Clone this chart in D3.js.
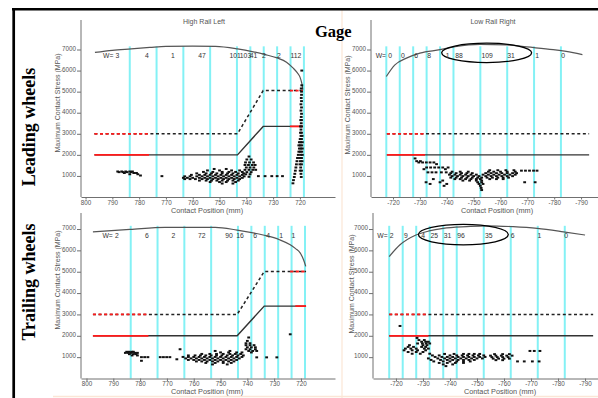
<!DOCTYPE html>
<html>
<head>
<meta charset="utf-8">
<script src="https://cdn.jsdelivr.net/npm/d3@7"></script>
<style>
    body { margin: 0; background: #fff; }
    svg { display: block; font-family: Arial, 'Liberation Sans', sans-serif; }
</style>
</head>
<body>
<div id="chart"></div>
<script>
//Colores fijos
const COLOR_BIN = '#84f1f5';
const COLOR_RED = '#ff1a1a';
const COLOR_LINE = '#333';
const COLOR_CURVE = '#555';
const COLOR_AXIS = '#707070';
const COLOR_TEXT = '#555';

//Ejes
const TICKS_Y = [1000, 2000, 3000, 4000, 5000, 6000, 7000];
const TICKS_X_LEFT = [800, 790, 780, 770, 760, 750, 740, 730, 720];
const TICKS_X_RIGHT = [-720, -730, -740, -750, -760, -770, -780, -790];

//Límites de las bandas (mm)
const binsLeft = [783.5, 773.5, 763.5, 753.5, 743.5, 738.5, 733.5, 728.5, 723.5, 718.5];
const binsRight = [-717.5, -722.5, -727.5, -732.5, -737.5, -742.5, -752.5, -762.5, -772.5, -782.5];

//Número de ruedas por banda y su posición (mm)
const countsTL = ['3', '4', '1', '47', '101', '103', '41', '2', '2', '112'];
const countPosTL = [788.1, 777.1, 767.4, 756.5, 744.2, 740.3, 737.3, 733.4, 727.8, 721.5];
const countsTR = ['0', '0', '6', '8', '1', '88', '109', '31', '1', '0'];
const countPosTR = [-718.9, -723.7, -728.6, -733.4, -740.3, -744.6, -755, -763.9, -773.6, -783.3];
const countsBL = ['2', '6', '2', '72', '90', '16', '6', '4', '1', '1'];
const countPosBL = [788.7, 777.5, 767.6, 757, 746.8, 742.7, 737.1, 732.2, 727.4, 722.8];
const countsBR = ['2', '9', '4', '25', '31', '96', '35', '6', '1', '0'];
const countPosBR = [-718.4, -723.7, -730.1, -734.2, -739.1, -744.1, -754.4, -763.2, -773.1, -783];

//Envolvente superior (mm, MPa)
const curveTL = [[796.5, 6860], [790, 6960], [783, 7030], [776, 7100], [770, 7150], [760, 7160], [751.5, 7150], [743.3, 7030], [737.4, 6890], [733, 6760], [728.5, 6600], [725, 6400], [722.6, 6130], [721, 5900], [720, 5700], [719.3, 5400], [718.9, 5100]];
const curveTR = [[-717.5, 5720], [-720.7, 6270], [-725, 6590], [-730, 6830], [-737.5, 6990], [-743.1, 7130], [-752.4, 7240], [-762.3, 7220], [-769.8, 7120], [-779.6, 6990], [-787, 6850], [-790.5, 6760]];
const curveBL = [[797.6, 6870], [783.8, 6980], [770.7, 7080], [752, 7080], [743.8, 6950], [734.1, 6720], [728, 6500], [724, 6260], [722, 6080], [720.3, 5880], [719, 5550], [718.2, 5250]];
const curveBR = [[-717.5, 5710], [-721.5, 6260], [-727.4, 6720], [-732.3, 6910], [-737.5, 7030], [-746.2, 7110], [-753.6, 7150], [-763.4, 7110], [-772.3, 7030], [-782, 6870], [-790, 6720]];

//Límites (línea continua y discontinua) y tramos rojos [desde, hasta, valor]
const limitTL = [[796.7, 2000], [743.3, 2000], [733.7, 3350], [718.9, 3350]];
const limitDashTL = [[796.7, 3000], [743.3, 3000], [733.7, 5050], [718.9, 5050]];
const redTL = [[796.7, 776.3, 2000], [723.7, 718.9, 3350]];
const redDashTL = [[796.7, 776.3, 3000], [723.7, 718.9, 5050]];

const limitTR = [[-717.7, 2000], [-793, 2000]];
const limitDashTR = [[-717.7, 3000], [-793, 3000]];
const redTR = [[-717.7, -731.9, 2000]];
const redDashTR = [[-717.7, -731.9, 3000]];

const limitBL = [[797.6, 2000], [743.8, 2000], [733.7, 3390], [718.1, 3390]];
const limitDashBL = [[797.6, 3000], [743.8, 3000], [733.7, 5010], [718.1, 5010]];
const redBL = [[797.6, 776.9, 2000], [722.1, 718.1, 3390]];
const redDashBL = [[797.6, 776.9, 3000], [724, 718.1, 5010]];

const limitBR = [[-717.5, 2000], [-793, 2000]];
const limitDashBR = [[-717.5, 3000], [-793, 3000]];
const redBR = [[-717.5, -732, 2000]];
const redDashBR = [[-717.5, -732, 3000]];

//Elipses [mm desde, mm hasta, MPa bajo, MPa alto]
const ellipseTR = [-738.1, -771.6, 6380, 7300];
const ellipseBR = [-728.3, -761.6, 6260, 7220];

//Puntos de contacto por filas [MPa, [mm...]]
const scatterTL = [
    [1210, [788, 786.5, 785, 783.5, 782.5]],
    [1180, [787.5, 786, 784.5, 783]],
    [1140, [785.5, 782, 781]],
    [1080, [783.5, 780.5]],
    [1020, [779.5]],
    [990, [771.5, 735.5, 733, 730.5, 728.5, 726.5]],
    [1330, [752, 747.5]],
    [1260, [754.5, 750, 745.5, 742.5]],
    [1190, [756, 752.5, 749, 746.5, 744, 741.5]],
    [1120, [758.5, 755, 753, 751, 749, 747, 745, 743, 741]],
    [1050, [760.5, 757.5, 755.5, 753.5, 751.5, 749.5, 747.5, 745.5, 743.5, 741.5]],
    [980, [763, 761, 758.5, 756.5, 754.5, 752.5, 750.5, 748.5, 746.5, 744.5, 742.5, 740.8]],
    [910, [763.5, 762, 760, 757.5, 755.5, 753.5, 751.5, 749.5, 747.5, 745.5, 743.5, 741.5]],
    [850, [763, 761, 759, 756.5, 754.5, 752.5, 750.5, 748.5, 746.5, 744.5, 742.5]],
    [780, [757.5, 755, 753, 751, 749, 747, 745, 743]],
    [710, [753.5, 750, 747.5, 744]],
    [640, [749, 745]],
    [1920, [739]],
    [1780, [739.8, 738.2]],
    [1640, [740.3, 738.8, 737.3]],
    [1520, [740.5, 739.2, 737.8, 736.7]],
    [1400, [740, 738.6, 737.2]],
    [1290, [740.5, 739, 737.6, 736.5]],
    [1180, [739.8, 738.2]],
    [1080, [740.2, 738.6]],
    [960, [739]],
    [650, [722.6]], [800, [722.4]], [950, [722.1, 719.5]], [1100, [721.9, 719.6]],
    [1250, [721.7, 719.4, 719.9]], [1400, [721.5, 719.7]], [1550, [721.3, 719.4, 720]],
    [1700, [721.1, 719.8, 719.2]], [1850, [720.9, 719.4, 720.1]], [2000, [720.6, 719.7, 719.1]],
    [2150, [720.4, 719.3, 719.9]], [2300, [719.6, 720.2, 719.1]], [2450, [719.3, 719.9, 720.4]],
    [2600, [719.7, 719.1, 720.2]], [2750, [719.4, 719.9]], [2900, [719.6, 719.2]],
    [3050, [719.4, 719.8]], [3200, [719.6]], [3350, [719.4, 719.8]], [3500, [719.5]],
    [3650, [719.4, 719.7]], [3800, [719.5]], [3950, [719.4]], [4100, [719.6]],
    [4250, [719.4]], [4400, [719.6]], [4550, [719.4]], [4700, [719.5]],
    [4850, [719.4]], [5000, [719.4]], [5150, [719.5]], [5300, [719.3]], [6000, [719.3]]
];

const scatterTR = [
    [1830, [-728.2]],
    [1700, [-728.8, -730.2]],
    [1640, [-729.6, -731, -732.4, -733.8, -735.2]],
    [1560, [-736.2]],
    [1400, [-732.5, -734, -735.5, -737, -738.5, -740.5]],
    [1320, [-731.5, -739.5]],
    [1250, [-767.8, -769.3, -770.8, -772.3, -773.6]],
    [1170, [-733, -734.5, -736, -738, -739.8]],
    [1270, [-756, -759, -762, -765]],
    [1200, [-742, -745, -748, -755.5, -757.5, -760, -762.5, -765.5]],
    [1130, [-741.5, -743.5, -745.5, -747.5, -749.5, -754.5, -756.5, -758.5, -760.5, -762.5, -764.5, -766]],
    [1060, [-741, -743, -745, -747, -749, -751, -753.5, -755.5, -757.5, -759.5, -761.5, -763.5, -765.5]],
    [990, [-742, -744, -746, -748, -750, -752, -754.5, -756.5, -758.5, -760.5, -762.5, -764.5]],
    [920, [-741.5, -743.5, -745.5, -747.5, -749.5, -751.5, -753, -755, -757, -759, -761, -763]],
    [850, [-735, -743, -745, -747, -749, -751, -752.5, -756, -758.5, -761]],
    [780, [-738.5, -746, -748.5, -751, -753]],
    [700, [-732.3, -737.5, -751.5, -753, -769, -772.9]],
    [620, [-733.8, -740, -752, -753.5]],
    [530, [-739, -752.5]],
    [430, [-752.8]],
    [330, [-753]]
];

const scatterBL = [
    [1250, [785, 784, 783, 782.5]],
    [1200, [785.5, 784.5, 783.5, 782, 781]],
    [1140, [784, 782.5, 781.5]],
    [1080, [783, 781]],
    [1000, [779.5, 778.3, 777.1, 772.5, 771.3, 770.1, 768.9]],
    [830, [779.5]],
    [900, [766.3]],
    [1370, [765.1, 740.5, 739, 737]],
    [1290, [752, 746.5, 739.5, 738, 736.5]],
    [1220, [750, 747, 744, 742, 738.5]],
    [1150, [757, 754, 751.5, 749, 746.5, 744.5, 742.5]],
    [1080, [762, 759.5, 757.5, 755.5, 753.5, 751.5, 749.5, 747.5, 745.5, 743.5, 741.5]],
    [1010, [764, 762, 760, 758, 756, 754, 752, 750, 748, 746, 744, 742]],
    [940, [763, 761, 759, 757, 755, 753, 751, 749, 747, 745, 743]],
    [870, [762, 760, 758, 756, 754, 752, 750, 748, 746, 744]],
    [800, [759, 757, 755, 753, 751, 749, 747, 745]],
    [730, [755.5, 752, 749, 746]],
    [660, [753, 747.5]],
    [1920, [739.5]],
    [1760, [740]],
    [1650, [740.5, 739]],
    [1560, [740.5, 739, 737.5]],
    [1460, [740, 738.5, 737]],
    [990, [736.5, 732.8, 729]],
    [2070, [724]]
];

const scatterBR = [
    [2460, [-721.5]],
    [1900, [-727.8]],
    [1800, [-728.5, -730.5]],
    [1720, [-729.5, -731, -732]],
    [1640, [-728, -729.8, -731.2, -732.5]],
    [1560, [-725, -730, -731.5]],
    [1480, [-724.5, -726.5, -729.5, -731]],
    [1400, [-723.5, -725.5, -727.5, -730.5, -732]],
    [1320, [-723, -726, -728, -731]],
    [1290, [-769.6, -771.2, -773.3]],
    [1240, [-724.5, -727.5, -730]],
    [1160, [-726, -729, -732.5]],
    [1150, [-738, -741.5, -745, -747, -749, -751]],
    [1140, [-756.5, -759.5, -762]],
    [1080, [-733.5, -736, -740, -742.5, -744.5, -746.5, -748.5, -750.5, -752.5]],
    [1070, [-755, -757, -759, -761, -763]],
    [1010, [-734.5, -737, -739, -741, -743, -745, -747, -749, -751, -753]],
    [1000, [-755.5, -757.5, -759.5, -761.5]],
    [940, [-732, -735.5, -738, -740, -742, -744, -746, -748, -750, -752]],
    [930, [-756, -758, -760, -762]],
    [870, [-733, -736.5, -739, -741, -743, -745, -747, -749]],
    [860, [-757, -759.5]],
    [800, [-734, -737.5, -740, -742.5, -745, -747.5, -765, -767.5, -770.5, -773]],
    [730, [-736, -739, -742, -745]],
    [660, [-737.5, -741]],
    [580, [-738.5]]
];

//Configuración de paneles
const panels = [
    { bins: binsLeft, counts: countsTL, countPos: countPosTL, curve: curveTL, limit: limitTL, limitDash: limitDashTL, red: redTL, redDash: redDashTL, scatter: scatterTL, ellipse: null,
      xDomain: [801.7, 706.9], xRange: [81, 335], yDomain: [0, 8400], yRange: [197, 20], ticksX: TICKS_X_LEFT,
      title: 'High Rail Left', titlePos: [204, 24], yTitlePos: [60, 103], xTitlePos: [207, 212.5] },
    { bins: binsRight, counts: countsTR, countPos: countPosTR, curve: curveTR, limit: limitTR, limitDash: limitDashTR, red: redTR, redDash: redDashTR, scatter: scatterTR, ellipse: ellipseTR,
      xDomain: [-711.8, -796.3], xRange: [371, 598], yDomain: [0, 8400], yRange: [197, 20], ticksX: TICKS_X_RIGHT,
      title: 'Low Rail Right', titlePos: [493, 24], yTitlePos: [350, 105], xTitlePos: [497, 212.5] },
    { bins: binsLeft, counts: countsBL, countPos: countPosBL, curve: curveBL, limit: limitBL, limitDash: limitDashBL, red: redBL, redDash: redDashBL, scatter: scatterBL, ellipse: null,
      xDomain: [802.05, 707.3], xRange: [81, 335], yDomain: [0, 7750], yRange: [378.5, 213], ticksX: TICKS_X_LEFT,
      title: null, yTitlePos: [60, 280], xTitlePos: [207, 394] },
    { bins: binsRight, counts: countsBR, countPos: countPosBR, curve: curveBR, limit: limitBR, limitDash: limitDashBR, red: redBR, redDash: redDashBR, scatter: scatterBR, ellipse: ellipseBR,
      xDomain: [-711.5, -794.8], xRange: [373, 598], yDomain: [0, 7750], yRange: [378.5, 213], ticksX: TICKS_X_RIGHT,
      title: null, yTitlePos: [354, 284], xTitlePos: [500, 394] }
];

let svg = d3.select('#chart')
    .append('svg')
        .attr('width', 598)
        .attr('height', 398);

//Marco
svg.append('line').attr('x1', 342).attr('x2', 342).attr('y1', 10).attr('y2', 398).attr('stroke', '#fbe6d6').attr('stroke-width', 1.2);
svg.append('line').attr('x1', 53).attr('x2', 598).attr('y1', 396.5).attr('y2', 396.5).attr('stroke', '#fbe6d6').attr('stroke-width', 1.5);
svg.append('line').attr('x1', 12).attr('x2', 598).attr('y1', 9.3).attr('y2', 9.3).attr('stroke', '#000').attr('stroke-width', 2.6);
svg.append('line').attr('x1', 13.7).attr('x2', 13.7).attr('y1', 8).attr('y2', 398).attr('stroke', '#000').attr('stroke-width', 2.7);

function expandRows(rows) {
    let pts = [];
    rows.forEach(function(r) { r[1].forEach(function(m) { pts.push([m, r[0]]); }); });
    return pts;
}

function drawPanel(p) {
    let x = d3.scaleLinear().domain(p.xDomain).range(p.xRange);
    let y = d3.scaleLinear().domain(p.yDomain).range(p.yRange);
    let g = svg.append('g');

    //Bandas
    g.selectAll('.bin')
        .data(p.bins)
        .enter()
        .append('line')
        .attr('x1', function(d) { return x(d); })
        .attr('x2', function(d) { return x(d); })
        .attr('y1', y(7150))
        .attr('y2', y(0))
        .attr('stroke', COLOR_BIN)
        .attr('stroke-width', 2);

    //Límites
    let line = d3.line().x(function(d) { return x(d[0]); }).y(function(d) { return y(d[1]); });

    g.append('path').attr('d', line(p.limit)).attr('fill', 'none').attr('stroke', COLOR_LINE).attr('stroke-width', 1.4);
    g.append('path').attr('d', line(p.limitDash)).attr('fill', 'none').attr('stroke', '#222').attr('stroke-width', 1.5).attr('stroke-dasharray', '3,2.6');

    g.selectAll('.red')
        .data(p.red)
        .enter()
        .append('line')
        .attr('x1', function(d) { return x(d[0]); })
        .attr('x2', function(d) { return x(d[1]); })
        .attr('y1', function(d) { return y(d[2]); })
        .attr('y2', function(d) { return y(d[2]); })
        .attr('stroke', COLOR_RED)
        .attr('stroke-width', 1.8);

    g.selectAll('.redDash')
        .data(p.redDash)
        .enter()
        .append('line')
        .attr('x1', function(d) { return x(d[0]); })
        .attr('x2', function(d) { return x(d[1]); })
        .attr('y1', function(d) { return y(d[2]); })
        .attr('y2', function(d) { return y(d[2]); })
        .attr('stroke', COLOR_RED)
        .attr('stroke-width', 1.8)
        .attr('stroke-dasharray', '3,2.6');

    //Envolvente
    g.append('path')
        .attr('d', line.curve(d3.curveMonotoneX)(p.curve))
        .attr('fill', 'none')
        .attr('stroke', COLOR_CURVE)
        .attr('stroke-width', 1.2);

    //Elipse
    if (p.ellipse) {
        let e = p.ellipse;
        g.append('ellipse')
            .attr('cx', (x(e[0]) + x(e[1])) / 2)
            .attr('cy', (y(e[2]) + y(e[3])) / 2)
            .attr('rx', Math.abs(x(e[1]) - x(e[0])) / 2)
            .attr('ry', Math.abs(y(e[3]) - y(e[2])) / 2)
            .attr('fill', 'none')
            .attr('stroke', '#000')
            .attr('stroke-width', 1.3);
    }

    //Puntos
    g.selectAll('.pt')
        .data(expandRows(p.scatter))
        .enter()
        .append('rect')
        .attr('x', function(d) { return x(d[0]) - 1.4; })
        .attr('y', function(d) { return y(d[1]) - 1; })
        .attr('width', 2.8)
        .attr('height', 2)
        .attr('fill', '#111');

    //Número de ruedas
    g.selectAll('.count')
        .data(p.counts)
        .enter()
        .append('text')
        .attr('x', function(d, i) { return x(p.countPos[i]); })
        .attr('y', y(6700))
        .attr('dy', '0.35em')
        .attr('text-anchor', 'middle')
        .attr('font-size', 6.8)
        .attr('fill', '#333')
        .text(function(d) { return d; });

    g.append('text')
        .attr('x', x(p.countPos[0]) - 4)
        .attr('y', y(6700))
        .attr('dy', '0.35em')
        .attr('text-anchor', 'end')
        .attr('font-size', 6.8)
        .attr('fill', '#333')
        .text('W=');

    //Ejes
    let xAxis = g.append('g')
        .attr('transform', 'translate(0,' + y(0) + ')')
        .call(d3.axisBottom(x).tickValues(p.ticksX).tickSize(2.5).tickSizeOuter(0).tickPadding(0.8).tickFormat(function(d) { return d; }));

    let yAxis = g.append('g')
        .attr('transform', 'translate(' + p.xRange[0] + ',0)')
        .call(d3.axisLeft(y).tickValues(TICKS_Y).tickSize(4).tickSizeOuter(0).tickPadding(1).tickFormat(d3.format('d')));

    yAxis.select('.domain').attr('d', 'M0,' + p.yRange[0] + 'V' + p.yRange[1]);

    [xAxis, yAxis].forEach(function(a) {
        a.selectAll('.domain, .tick line').attr('stroke', COLOR_AXIS);
        a.selectAll('.tick text').attr('fill', COLOR_TEXT).attr('font-size', 6.3).attr('font-family', 'Arial, Liberation Sans, sans-serif');
    });
    yAxis.selectAll('.tick text').attr('dy', '0.1em');

    //Títulos
    if (p.title) {
        g.append('text')
            .attr('x', p.titlePos[0])
            .attr('y', p.titlePos[1])
            .attr('text-anchor', 'middle')
            .attr('font-size', 7)
            .attr('fill', COLOR_TEXT)
            .text(p.title);
    }

    g.append('text')
        .attr('x', p.xTitlePos[0])
        .attr('y', p.xTitlePos[1])
        .attr('text-anchor', 'middle')
        .attr('font-size', 7.3)
        .attr('fill', COLOR_TEXT)
        .text('Contact Position (mm)');

    g.append('text')
        .attr('transform', 'translate(' + p.yTitlePos[0] + ',' + p.yTitlePos[1] + ') rotate(-90)')
        .attr('text-anchor', 'middle')
        .attr('font-size', 7)
        .attr('fill', COLOR_TEXT)
        .text('Maximum Contact Stress (MPa)');
}

panels.forEach(drawPanel);

//Rótulos generales
svg.append('text')
    .attr('x', 315)
    .attr('y', 37)
    .attr('font-family', 'Liberation Serif, Times New Roman, serif')
    .attr('font-weight', 'bold')
    .attr('font-size', 16.5)
    .text('Gage');

[['Leading wheels', 127], ['Trailing wheels', 282]].forEach(function(d) {
    svg.append('text')
        .attr('transform', 'translate(35,' + d[1] + ') rotate(-90)')
        .attr('text-anchor', 'middle')
        .attr('font-family', 'Liberation Serif, Times New Roman, serif')
        .attr('font-weight', 'bold')
        .attr('font-size', 18)
        .text(d[0]);
});
</script>
</body>
</html>
